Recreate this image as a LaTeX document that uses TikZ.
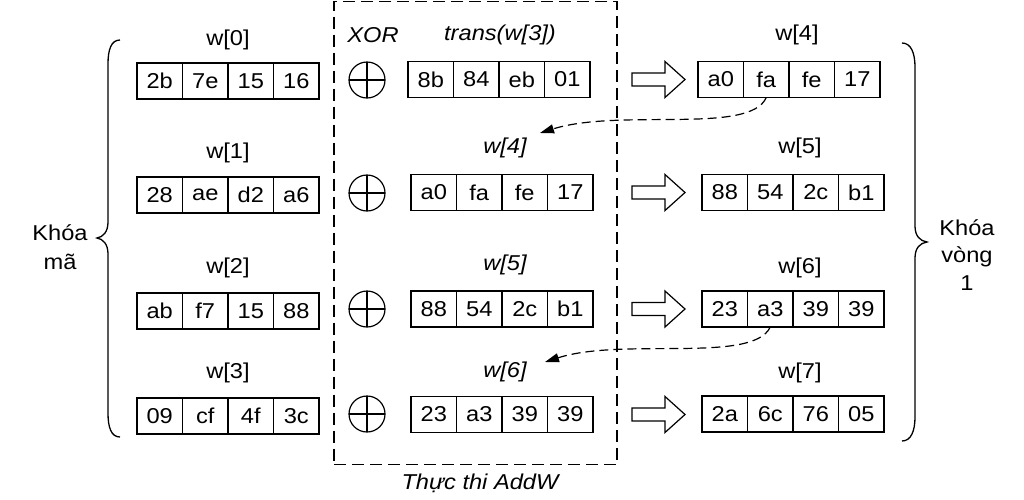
\documentclass[tikz,border=0pt]{standalone}
\usepackage{fontspec}
\setmainfont{Liberation Sans}[FakeStretch=1.1]
\usetikzlibrary{arrows.meta}
\tikzset{
  cell/.style={draw, line width=1.2pt, minimum width=45.5pt, minimum height=36pt, inner sep=0pt, outer sep=0pt, font=\fontsize{21.5}{25}\selectfont},
  lab/.style={inner sep=0pt, font=\fontsize{21.5}{25}\selectfont},
  ilab/.style={inner sep=0pt, font=\fontsize{21.5}{25}\selectfont\itshape},
  xorsym/.style={draw, circle, line width=1.2pt, minimum size=36pt, inner sep=0pt, outer sep=0pt},
  dashbox/.style={draw, line width=1.2pt, dash pattern=on 12pt off 6pt, inner sep=0pt, outer sep=0pt},
  curv/.style={line width=1.2pt, dash pattern=on 9pt off 5pt, -{Triangle[length=14pt,width=9pt]}},
  bracelines/.style={line width=1.3pt},
  fatarrow/.pic={\draw[line width=1.2pt] (0,-6.5) -- (33,-6.5) -- (33,-18) -- (53,0) -- (33,18) -- (33,6.5) -- (0,6.5) -- cycle;}
}
\newcommand{\wordrow}[7]{%
  \node[cell, anchor=west] (#1a) at (#2,#3) {#4};
  \node[cell, anchor=west] (#1b) at (#1a.east) {#5};
  \node[cell, anchor=west] (#1c) at (#1b.east) {#6};
  \node[cell, anchor=west] (#1d) at (#1c.east) {#7};
}
\begin{document}
\begin{tikzpicture}[x=1pt, y=-1pt]
\useasboundingbox (0,0) rectangle (1024,499);

% dashed AddW box
\node[dashbox, anchor=north west, minimum width=283pt, minimum height=463pt] (box) at (334,1.5) {};
\node[ilab] (addw) at (480,483) {Thực thi AddW};

% left words
\node[lab] (lw0) at (228,40) {w[0]};
\wordrow{L1}{137}{81}{2b}{7e}{15}{16}
\node[lab] (lw1) at (228,153) {w[1]};
\wordrow{L2}{137}{195}{28}{ae}{d2}{a6}
\node[lab] (lw2) at (228,268) {w[2]};
\wordrow{L3}{137}{311}{ab}{f7}{15}{88}
\node[lab] (lw3) at (228,373) {w[3]};
\wordrow{L4}{137}{416}{09}{cf}{4f}{3c}

% XOR column
\node[ilab] (xorlab) at (373,35) {XOR};
\foreach \i/\y in {1/80,2/193,3/309,4/414}{
  \node[xorsym] (X\i) at (367,\y) {};
  \draw[line width=1.2pt] (X\i.north) -- (X\i.south) (X\i.west) -- (X\i.east);
}

% middle words
\node[ilab] (mtr) at (500,35) {trans(w[3])};
\wordrow{M1}{408}{79.5}{8b}{84}{eb}{01}
\node[ilab] (mw4) at (505,148) {w[4]};
\wordrow{M2}{411}{192.5}{a0}{fa}{fe}{17}
\node[ilab] (mw5) at (505,265) {w[5]};
\wordrow{M3}{411}{309}{88}{54}{2c}{b1}
\node[ilab] (mw6) at (505,372) {w[6]};
\wordrow{M4}{411}{414.5}{23}{a3}{39}{39}

% hollow arrows
\foreach \i/\y in {1/79.5,2/192.5,3/309,4/414.5}{
  \coordinate (A\i) at (632,\y);
  \pic at (A\i) {fatarrow};
}

% right words
\node[lab] (rw4) at (797,35) {w[4]};
\wordrow{R1}{698}{79.5}{a0}{fa}{fe}{17}
\node[lab] (rw5) at (800,148) {w[5]};
\wordrow{R2}{702}{192.5}{88}{54}{2c}{b1}
\node[lab] (rw6) at (800,268) {w[6]};
\wordrow{R3}{702}{309}{23}{a3}{39}{39}
\node[lab] (rw7) at (800,373) {w[7]};
\wordrow{R4}{702}{414}{2a}{6c}{76}{05}

% dashed feedback arrows
\coordinate (t1) at (540,133);
\coordinate (t2) at (545,362);
\draw[curv] (R1b.south) .. controls (750,135) and (620,108) .. (t1);
\draw[curv] (R3b.south) .. controls (753,364) and (623,337) .. (t2);

% braces
\draw[bracelines] (120,40) .. controls (111,40) and (108,50) .. (108,64) -- (108,222) .. controls (108,232) and (103,237) .. (97,238) .. controls (103,239) and (108,244) .. (108,254) -- (108,413) .. controls (108,427) and (111,437) .. (120,437);
\draw[bracelines] (902,43) .. controls (911,43) and (915,53) .. (915,67) -- (915,226) .. controls (915,236) and (920,241) .. (927,242) .. controls (920,243) and (915,248) .. (915,258) -- (915,417) .. controls (915,431) and (911,441) .. (902,441);

\node[lab, align=center, font=\fontsize{21.5}{29}\selectfont] (km) at (60,247.5) {Khóa\\mã};
\node[lab, align=center, font=\fontsize{21.5}{27.5}\selectfont] (kv) at (967,255) {Khóa\\vòng\\1};
\end{tikzpicture}
\end{document}
